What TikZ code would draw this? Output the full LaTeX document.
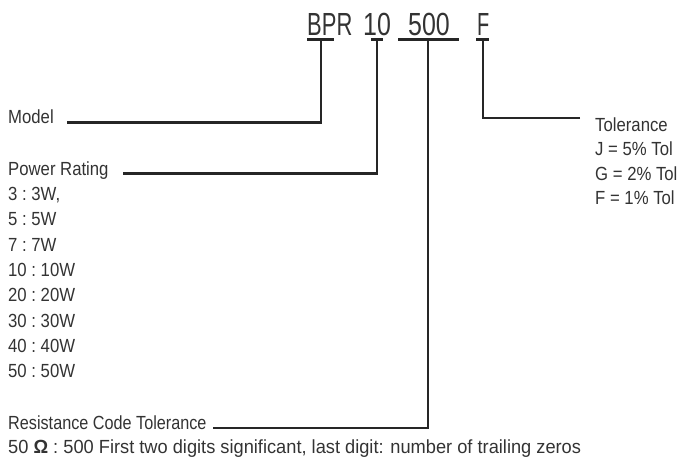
\documentclass[tikz,border=0pt]{standalone}
\usepackage{fontspec}
\setmainfont{Liberation Sans}[FakeStretch=0.88]
\newfontfamily\notefont{Liberation Sans}[FakeStretch=0.96]
\newfontfamily\codefont{Liberation Sans}[FakeStretch=0.78]
\usetikzlibrary{positioning}

\begin{document}
\begin{tikzpicture}
	[x=1pt, y=-1pt,
	label/.style ={anchor=base west, inner sep=0pt, text=black!80, font=\fontsize{19}{25}\selectfont},
	code/.style ={anchor=base west, inner sep=0pt, text=black!80, font=\codefont\fontsize{32}{36}\selectfont},
	lead/.style ={draw=black!85, line width=2.2pt}]
	\useasboundingbox (0,0) rectangle (683,463);

	% part number
	\node[code] (bpr) at (307,35) {\scalebox{0.88}[1]{BPR}};
	\node[code] (ten) at (363,35) {10};
	\node[code] (res) at (408,35) {500};
	\node[code] (tol) at (477,35) {\scalebox{0.8}[1]{F}};
	\foreach \a/\b in {307/334, 371/383, 398/459, 476/489}
		\draw[lead] (\a,39.5) -- (\b,39.5);
	\coordinate (bprtap) at (321,39.5);
	\coordinate (tentap) at (377,39.5);
	\coordinate (restap) at (428,39.5);
	\coordinate (toltap) at (483,39.5);

	% fields
	\node[label] (model) at (8,123) {Model};
	\node[label] (power) at (8,175) {Power Rating};
	\foreach \n/\w [count=\i] in {3/{3W,}, 5/5W, 7/7W, 10/10W, 20/20W, 30/30W, 40/40W, 50/50W}
		\node[label] (pr\i) at (8,175+25.35*\i) {\n\ :\ \w};
	\node[label] (rescode) at (8,429) {\scalebox{0.97}[1]{Resistance Code Tolerance}};
	\node[label] (resnote) at (8,453.5) {\notefont 50 \textbf{Ω} : 500 First two digits significant, last digit: number of trailing zeros};
	\node[label] (tolerance) at (595,131) {Tolerance};
	\foreach \t [count=\i] in {J = 5\% Tol, G = 2\% Tol, F = 1\% Tol}
		\node[label] (tl\i) at (595,131+24.5*\i) {\t};

	% leads
	\coordinate (modelend) at (67,122.5);
	\coordinate (powerend) at (123,173.5);
	\coordinate (rescodeend) at (213,428);
	\coordinate (tolend) at (580,118);
	\draw[lead] (modelend) -| (bprtap);
	\draw[lead] (powerend) -| (tentap);
	\draw[lead] (rescodeend) -| (restap);
	\draw[lead] (tolend) -| (toltap);

\end{tikzpicture}
\end{document}
